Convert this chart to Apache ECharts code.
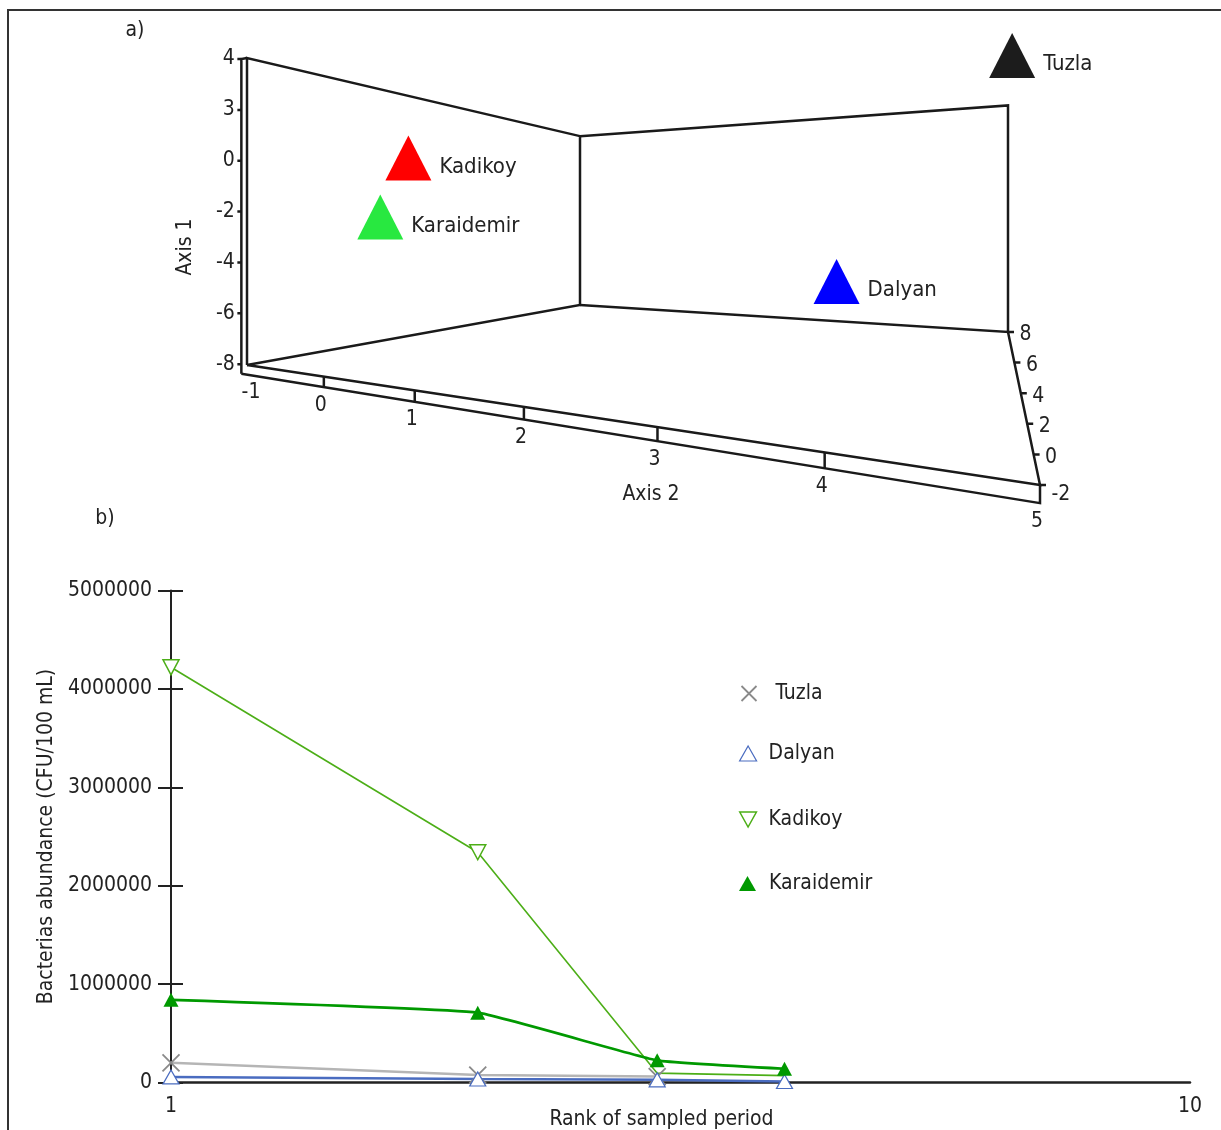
<!DOCTYPE html>
<html>
<head>
<meta charset="utf-8">
<title>PCA and bacteria abundance</title>
<script src="https://cdn.jsdelivr.net/npm/echarts@6/dist/echarts.min.js"></script>
<style>
    html, body { margin: 0; padding: 0; background: #fff; }
    #main { width: 1221px; height: 1130px; }
</style>
</head>
<body>
<div id="main"></div>
<script type="text/javascript">

    // ---- a) 3D ordination of the sites ----
    var sites      = ['Tuzla', 'Dalyan', 'Kadikoy', 'Karaidemir'];
    var siteAxis1  = [4.4, -4.6, 0.4, -2.2];
    var siteAxis2  = [4.98, 3.64, -0.2, 0.03];
    var siteAxis3  = [4, 2, 0, -1];
    var siteColors = ['#1c1c1c', '#0000ff', '#ff0000', '#28e840'];

    var axis1Ticks  = [4, 2, 0, -2, -4, -6, -8];
    var axis1Labels = ['4', '3', '0', '-2', '-4', '-6', '-8'];
    var axis2Ticks  = [-1, 0, 1, 2, 3, 4, 5];
    var axis3Ticks  = [8, 6, 4, 2, 0, -2];

    // ---- b) abundance by rank of sampled period ----
    var rank       = [1, 2, 3, 4];
    var tuzla      = [200000, 75000, 60000];
    var dalyan     = [57000, 35000, 27000, 10000];
    var kadikoy    = [4220000, 2340000, 95000, 70000];
    var karaidemir = [840000, 710000, 225000, 140000];

    var FONT = "'DejaVu Sans Condensed', 'Liberation Sans Narrow', sans-serif";
    var INK = '#222';

    // box ranges and layout of the perspective box (floor corners on screen)
    var a1Min = -8, a1Max = 4, a2Min = -1, a2Max = 5, a3Min = -2, a3Max = 8;
    var cornerA = [247, 365], cornerB = [580, 305], cornerC = [1008, 332], cornerD = [1040, 485];
    var wallPx = 307;
    var drop = 0.38, shift = 0.08;

    // square -> quad homography for the floor
    function squareToQuad(p0, p1, p2, p3) {
        var dx1 = p1[0] - p2[0], dx2 = p3[0] - p2[0], dx3 = p0[0] - p1[0] + p2[0] - p3[0];
        var dy1 = p1[1] - p2[1], dy2 = p3[1] - p2[1], dy3 = p0[1] - p1[1] + p2[1] - p3[1];
        var den = dx1 * dy2 - dx2 * dy1;
        var g = (dx3 * dy2 - dx2 * dy3) / den;
        var h = (dx1 * dy3 - dx3 * dy1) / den;
        return {
            a: p1[0] - p0[0] + g * p1[0], b: p3[0] - p0[0] + h * p3[0], c: p0[0],
            d: p1[1] - p0[1] + g * p1[1], e: p3[1] - p0[1] + h * p3[1], f: p0[1],
            g: g, h: h
        };
    }
    var hm = squareToQuad(cornerA, cornerD, cornerC, cornerB);

    function P(a1, a2, a3) {
        var s = (a2 - a2Min) / (a2Max - a2Min);
        var t = (a3 - a3Min) / (a3Max - a3Min);
        var w = hm.g * s + hm.h * t + 1;
        var lift = (a1 - a1Min) / (a1Max - a1Min) * wallPx;
        return [(hm.a * s + hm.b * t + hm.c) / w, (hm.d * s + hm.e * t + hm.f - lift) / w];
    }
    function along3(v) {
        var D = P(a1Min, a2Max, a3Min), C = P(a1Min, a2Max, a3Max);
        var f = (v - a3Min) / (a3Max - a3Min);
        return [D[0] + (C[0] - D[0]) * f, D[1] + (C[1] - D[1]) * f];
    }

    var frame = [
        [P(a1Min, a2Min, a3Min), P(a1Max, a2Min, a3Min), P(a1Max, a2Min, a3Max), P(a1Min, a2Min, a3Max), P(a1Min, a2Min, a3Min)],
        [P(a1Max, a2Min, a3Max), P(a1Max, a2Max, a3Max), P(a1Min, a2Max, a3Max), P(a1Min, a2Min, a3Max)],
        [P(a1Min, a2Min, a3Min), P(a1Min, a2Max, a3Min), P(a1Min, a2Max, a3Max)],
        [P(a1Min - drop, a2Min - shift, a3Min), P(a1Min - drop, a2Max, a3Min), P(a1Min, a2Max, a3Min)],
        [P(a1Min - drop, a2Min - shift, a3Min), P(a1Max, a2Min - shift, a3Min), P(a1Max, a2Min, a3Min)]
    ];
    axis2Ticks.forEach(function (v) {
        if (v > a2Min && v < a2Max) frame.push([P(a1Min - drop, v, a3Min), P(a1Min, v, a3Min)]);
    });
    axis1Ticks.forEach(function (v) {
        var p = P(v, a2Min - shift, a3Min);
        frame.push([p, [p[0] - 4, p[1]]]);
    });
    axis3Ticks.forEach(function (v) {
        var p = along3(v);
        frame.push([p, [p[0] + 6, p[1]]]);
    });

    var tickLabelData = [];
    axis1Ticks.forEach(function (v, i) {
        tickLabelData.push({ value: P(v, a2Min - shift, a3Min), name: axis1Labels[i], label: { position: 'left', distance: 6 } });
    });
    axis2Ticks.forEach(function (v, i) {
        tickLabelData.push({ value: P(a1Min - drop, v, a3Min), name: String(v), label: { position: 'bottom', distance: 7, offset: [i === 0 ? 4 : -3, 0] } });
    });
    axis3Ticks.forEach(function (v, i) {
        var p = along3(v);
        tickLabelData.push({ value: p, name: String(v), label: { position: 'right', distance: 11, offset: [0, i === axis3Ticks.length - 1 ? 10 : 3] } });
    });

    var siteData = sites.map(function (n, i) {
        return { name: n, value: P(siteAxis1[i], siteAxis2[i], siteAxis3[i]), itemStyle: { color: siteColors[i], opacity: 1 } };
    });

    function pairs(vals) {
        return vals.map(function (v, i) { return [rank[i], v]; });
    }

    var xMark = 'path://M0,0L10,10M10,0L0,10';
    var downTri = 'path://M0,0L10,0L5,9Z';
    var cTuzla = '#8a8a8a', cTuzlaLine = '#b5b5b5', cDalyan = '#4a6cc0', cKadikoy = '#4cae17', cKarai = '#009900';

    var legendItems = [
        { name: 'Tuzla', icon: xMark, itemStyle: { color: 'none', borderColor: cTuzla, borderWidth: 1.8 }, top: 683, pad: 13 },
        { name: 'Dalyan', icon: 'triangle', itemStyle: { color: '#fff', borderColor: cDalyan, borderWidth: 1.2 }, top: 743, pad: 7 },
        { name: 'Kadikoy', icon: downTri, itemStyle: { color: '#fff', borderColor: cKadikoy, borderWidth: 1.5 }, top: 809, pad: 7 },
        { name: 'Karaidemir', icon: 'triangle', itemStyle: { color: cKarai, borderColor: cKarai, borderWidth: 0 }, top: 873, pad: 8 }
    ];

    var mychart = echarts.init(document.getElementById('main'), null, { renderer: 'canvas' });

    var options = {
        animation: false,
        backgroundColor: '#fff',
        textStyle: { fontFamily: FONT },
        grid: [
            { left: 171, top: 590.5, width: 1019, height: 492, outerBoundsMode: 'none', containLabel: false },
            { left: 0, top: 0, width: 1221, height: 540, outerBoundsMode: 'none', containLabel: false }
        ],
        legend: legendItems.map(function (it) {
            return {
                data: [{ name: it.name, icon: it.icon, itemStyle: it.itemStyle }],
                left: 739, top: it.top, itemWidth: 17, itemHeight: 15, padding: 0,
                selectedMode: false,
                textStyle: { fontFamily: FONT, fontSize: 21, color: INK, padding: [0, 0, 0, it.pad] }
            };
        }),
        xAxis: [
            {
                gridIndex: 0, type: 'log', logBase: 10, min: 1, max: 10,
                axisLine: { show: true, lineStyle: { color: INK, width: 2.5 } },
                axisTick: { show: false },
                splitLine: { show: false },
                axisLabel: { color: INK, fontSize: 21, fontFamily: FONT, margin: 14 },
                name: 'Rank of sampled period', nameLocation: 'middle', nameGap: 27, nameMoveOverlap: false,
                nameTextStyle: { color: INK, fontSize: 21, fontFamily: FONT, padding: [0, 38, 0, 0] }
            },
            { gridIndex: 1, type: 'value', min: 0, max: 1221, show: false }
        ],
        yAxis: [
            {
                gridIndex: 0, type: 'value', min: 0, max: 5000000, interval: 1000000,
                axisLine: { show: true, lineStyle: { color: INK, width: 2 } },
                axisTick: { show: true, length: 13, lineStyle: { color: INK, width: 2 } },
                splitLine: { show: false },
                axisLabel: { color: INK, fontSize: 21, fontFamily: FONT, margin: 19, formatter: function (v) { return String(v); } },
                name: 'Bacterias abundance (CFU/100 mL)', nameLocation: 'middle', nameGap: 114, nameMoveOverlap: false,
                nameTextStyle: { color: INK, fontSize: 21, fontFamily: FONT }
            },
            {
                gridIndex: 0, type: 'value', min: 0, max: 5000000, interval: 1000000, position: 'left',
                axisLine: { show: false },
                axisTick: { show: true, inside: true, length: 12, lineStyle: { color: INK, width: 2 } },
                axisLabel: { show: false },
                splitLine: { show: false }
            },
            { gridIndex: 1, type: 'value', min: 0, max: 540, inverse: true, show: false }
        ],
        graphic: [
            { type: 'polyline', shape: { points: [[8, 1130], [8, 10], [1221, 10]] }, style: { stroke: '#333', lineWidth: 2, fill: null }, silent: true },
            { type: 'text', x: 135, y: 31, style: { text: 'a)', font: '21px ' + FONT, fill: INK, align: 'center', verticalAlign: 'middle' } },
            { type: 'text', x: 105, y: 519, style: { text: 'b)', font: '21px ' + FONT, fill: INK, align: 'center', verticalAlign: 'middle' } },
            { type: 'text', x: 186, y: 247, rotation: Math.PI / 2, style: { text: 'Axis 1', font: '21px ' + FONT, fill: INK, align: 'center', verticalAlign: 'middle' } },
            { type: 'text', x: 651, y: 495, style: { text: 'Axis 2', font: '21px ' + FONT, fill: INK, align: 'center', verticalAlign: 'middle' } }
        ],
        series: [
            {
                name: 'frame', type: 'lines', coordinateSystem: 'cartesian2d', xAxisIndex: 1, yAxisIndex: 2,
                polyline: true, silent: true,
                lineStyle: { color: '#1a1a1a', width: 2.5, opacity: 1 },
                data: frame.map(function (c) { return { coords: c }; })
            },
            {
                name: 'tickLabels', type: 'scatter', xAxisIndex: 1, yAxisIndex: 2, silent: true,
                symbolSize: 1, itemStyle: { color: 'rgba(0,0,0,0)', opacity: 1 },
                label: { show: true, formatter: '{b}', color: INK, fontSize: 21, fontFamily: FONT },
                data: tickLabelData
            },
            {
                name: 'sites3d', type: 'scatter', xAxisIndex: 1, yAxisIndex: 2, silent: true,
                symbol: 'triangle', symbolSize: [46, 45], itemStyle: { opacity: 1 },
                label: { show: true, position: 'right', distance: 8, offset: [0, 9], formatter: '{b}', color: INK, fontSize: 22, fontFamily: FONT },
                data: siteData
            },
            {
                name: 'Tuzla', type: 'line', xAxisIndex: 0, yAxisIndex: 0, data: pairs(tuzla),
                symbol: xMark, symbolSize: 17, showAllSymbol: true,
                itemStyle: { color: 'rgba(0,0,0,0)', borderColor: cTuzla, borderWidth: 1.8 },
                lineStyle: { color: cTuzlaLine, width: 2.5 }, emphasis: { disabled: true }, clip: false
            },
            {
                name: 'Dalyan', type: 'line', xAxisIndex: 0, yAxisIndex: 0, data: pairs(dalyan),
                symbol: 'triangle', symbolSize: [16, 14], showAllSymbol: true,
                itemStyle: { color: '#fff', borderColor: cDalyan, borderWidth: 1.2 },
                lineStyle: { color: cDalyan, width: 2.5 }, emphasis: { disabled: true }, clip: false
            },
            {
                name: 'Kadikoy', type: 'line', xAxisIndex: 0, yAxisIndex: 0,
                data: pairs(kadikoy).map(function (p, i) { return i < 2 ? p : { value: p, symbol: 'none' }; }),
                symbol: downTri, symbolSize: [16, 15], showAllSymbol: true,
                itemStyle: { color: '#fff', borderColor: cKadikoy, borderWidth: 1.5 },
                lineStyle: { color: cKadikoy, width: 1.6 }, emphasis: { disabled: true }, clip: false
            },
            {
                name: 'Karaidemir', type: 'line', xAxisIndex: 0, yAxisIndex: 0, data: pairs(karaidemir),
                symbol: 'triangle', symbolSize: [15, 14], showAllSymbol: true, smooth: 0.1,
                itemStyle: { color: cKarai, borderWidth: 0 },
                lineStyle: { color: cKarai, width: 2.6 }, emphasis: { disabled: true }, clip: false
            }
        ]
    };

    mychart.setOption(options);

</script>
</body>
</html>
